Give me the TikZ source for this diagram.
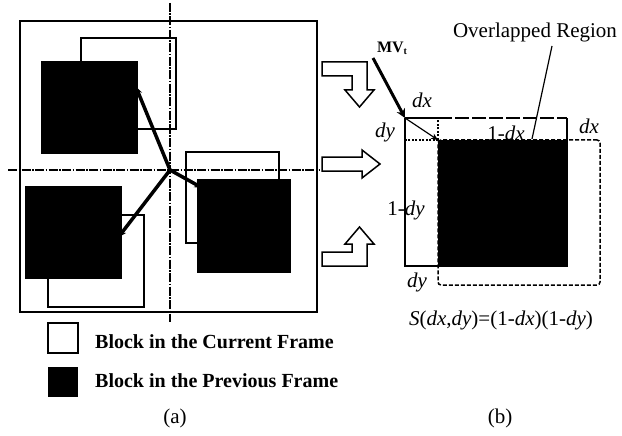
\documentclass[tikz,border=0pt]{standalone}
\usepackage{fontspec}
\setmainfont{Liberation Serif}
\usetikzlibrary{arrows.meta}
\begin{document}
\begin{tikzpicture}[x=1pt,y=-1pt,
  curblk/.style={draw, line width=1.5pt, inner sep=0pt, outer sep=0pt},
  prevblk/.style={fill=black, inner sep=0pt, outer sep=0pt},
  axisline/.style={line width=1.2pt, dash pattern=on 9pt off 1.5pt on 1.5pt off 1.5pt},
  mvline/.style={line width=3.5pt, shorten >=-6pt, -{Stealth[length=8pt,width=7pt]}},
  hollow/.style={draw, line width=1.5pt, fill=white, line join=miter},
  lbl/.style={font=\fontsize{21}{24}\selectfont, inner sep=0pt},
  legtxt/.style={font=\fontsize{20}{24}\selectfont\bfseries, inner sep=0pt, anchor=base west},
  thinline/.style={line width=1.2pt}
]
\useasboundingbox (0,0) rectangle (622,436);

% ---------- panel (a) ----------
\coordinate (vt) at (170,3);
\coordinate (vb) at (170,322);
\coordinate (hl) at (8,170);
\coordinate (hr) at (319,170);
\coordinate (o) at (170,170);
\draw[axisline] (vt) -- (vb);
\draw[axisline] (hl) -- (hr);

\node[draw, line width=1.6pt, minimum width=297pt, minimum height=291pt, inner sep=0pt] (frame) at (168.5,166.5) {};

\node[curblk, minimum width=95pt, minimum height=91pt] (c1) at (128.5,83.5) {};
\node[curblk, minimum width=93pt, minimum height=91pt] (c2) at (232.5,197.5) {};
\node[curblk, minimum width=96pt, minimum height=92pt] (c3) at (96,261) {};

\node[prevblk, minimum width=97pt, minimum height=93pt] (p1) at (89.5,107.5) {};
\node[prevblk, minimum width=94pt, minimum height=94pt] (p2) at (244,226) {};
\node[prevblk, minimum width=97pt, minimum height=93pt] (p3) at (73.5,232.5) {};

\draw[mvline] (o) -- ([yshift=15.5pt]p1.east);
\draw[mvline] (o) -- ([yshift=41pt]p2.west);
\draw[mvline] (o) -- (p3.east);

% legend
\node[curblk, minimum width=30pt, minimum height=30pt] (lc) at (63,338) {};
\node[prevblk, minimum width=30pt, minimum height=30pt] (lp) at (63,382) {};
\node[legtxt] (ltc) at (95,348) {Block in the Current Frame};
\node[legtxt] (ltp) at (95,387) {Block in the Previous Frame};
\node[lbl, anchor=base] (capa) at (175,423) {(a)};

% ---------- hollow arrows ----------
\draw[hollow] (322,62) -- (367,62) -- (367,90) -- (374,90) -- (359.5,107) -- (345,90) -- (352,90) -- (352,76) -- (322,76) -- cycle;
\draw[hollow] (322,157) -- (362,157) -- (362,150) -- (380,164) -- (362,178) -- (362,171) -- (322,171) -- cycle;
\draw[hollow] (322,266) -- (367,266) -- (367,244) -- (374,244) -- (359.5,227) -- (345,244) -- (352,244) -- (352,252) -- (322,252) -- cycle;

% ---------- panel (b) ----------
\node[draw, line width=1.5pt, dash pattern=on 4pt off 2pt, rounded corners=3pt,
      minimum width=162pt, minimum height=145pt, inner sep=0pt, outer sep=0pt] (pb) at (519,212.5) {};
\node[inner sep=0pt, outer sep=0pt, minimum width=162pt, minimum height=148pt] (cb) at (486,192) {};
\draw[line width=1.5pt] (cb.north west) -- (cb.south west) -- (cb.south east) -- (cb.north east);
\draw[line width=1.5pt] (cb.north west) -- ++(33,0);
\draw[line width=1.5pt, dash pattern=on 14pt off 3pt] ([xshift=33pt]cb.north west) -- (cb.north east);
\node[prevblk, minimum width=129pt, minimum height=126pt] (ov) at (502.5,203) {};
\draw[line width=1.2pt, dash pattern=on 2pt off 1.5pt] (ov.north west) -- ([yshift=22pt]ov.north west);
\draw[line width=1.2pt, dash pattern=on 2pt off 1.5pt] (ov.north west) -- ([xshift=-33pt]ov.north west);

\coordinate (mvs) at (373,58);
\draw[line width=3pt, -{Stealth[length=9pt,width=9pt]}] (mvs) -- (cb.north west);
\draw[line width=1.2pt, -{Stealth[length=7pt,width=6pt]}] (cb.north west) -- (ov.north west);
\node[font=\fontsize{16}{18}\selectfont\bfseries, inner sep=0pt] (mvl) at (392,48) {MV\raisebox{-2pt}{\fontsize{10}{10}\selectfont t}};

\node[lbl] (orl) at (535,32) {Overlapped Region};
\coordinate (lt) at (552,46);
\coordinate (lb) at (532,139);
\draw[thinline] (lt) -- (lb);

\node[lbl, anchor=base] (ldx1) at (422,108) {\textit{dx}};
\node[lbl, anchor=base] (ldy1) at (385,138) {\textit{dy}};
\node[lbl, anchor=base] (l1dx) at (506,140) {1-\textit{dx}};
\node[lbl, anchor=base] (ldx2) at (589,133) {\textit{dx}};
\node[lbl, anchor=base] (l1dy) at (406,215) {1-\textit{dy}};
\node[lbl, anchor=base] (ldy2) at (417,287) {\textit{dy}};

\node[lbl, anchor=base] (form) at (501,325) {\textit{S}(\textit{dx},\textit{dy})=(1-\textit{dx})(1-\textit{dy})};
\node[lbl, anchor=base] (capb) at (500,423) {(b)};
\end{tikzpicture}
\end{document}
